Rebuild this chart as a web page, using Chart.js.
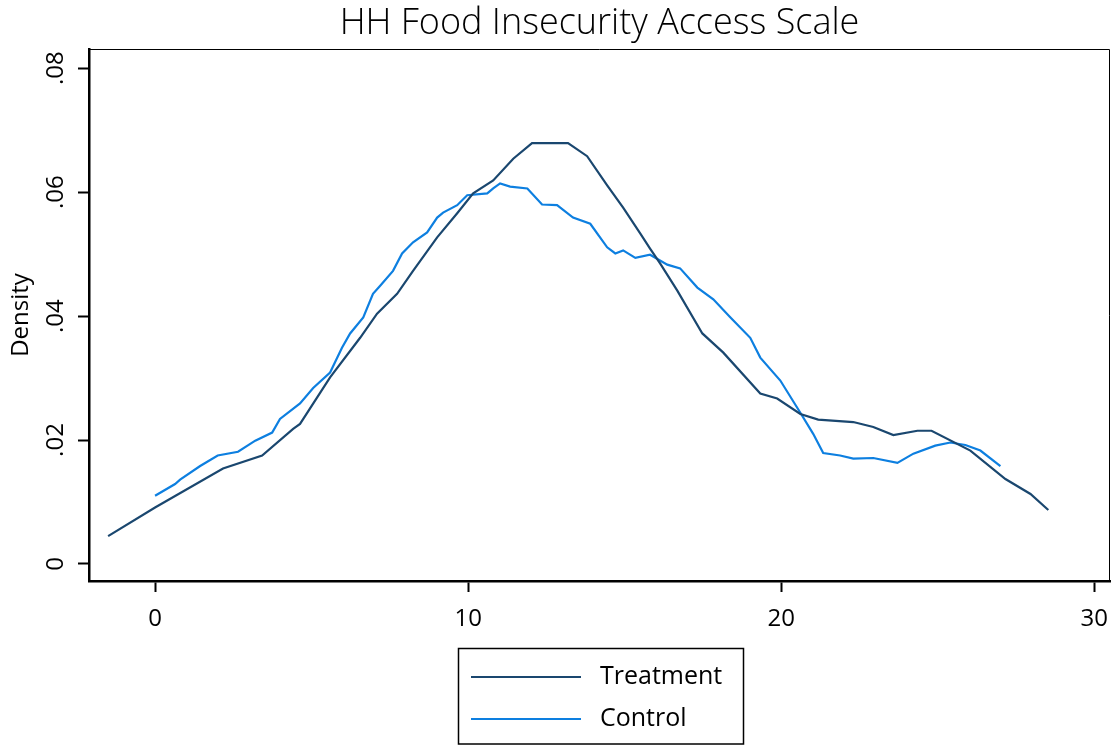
<!DOCTYPE html>
<html>
<head>
<meta charset="utf-8">
<script src="https://cdn.jsdelivr.net/npm/chart.js@4.4.0/dist/chart.umd.min.js"></script>
<style>
  body { margin: 0; background: #fff; }
  #grafica { display: block; }
</style>
</head>
<body>
<canvas id="grafica" width="1112" height="746"></canvas>
<script>
// kernel density
var treatX = [-1.50, 0, 2.17, 3.42, 4.41, 4.63, 5.59, 6.55, 7.09, 7.73,
  8.24, 9.01, 9.65, 10.16, 10.80, 11.44, 12.04, 13.19, 13.80, 14.44,
  14.95, 15.50, 15.81, 16.13, 16.68, 17.48, 18.15, 19.33, 19.87, 20.61,
  21.18, 22.30, 22.94, 23.58, 24.35, 24.80, 26.04, 27.16, 27.96, 28.53];
var treatY = [0.0045, 0.0091, 0.0154, 0.0175, 0.0218, 0.0226, 0.0301, 0.0365, 0.0404, 0.0436,
  0.0473, 0.0527, 0.0566, 0.0598, 0.0619, 0.0654, 0.0679, 0.0679, 0.0658, 0.0611,
  0.0575, 0.0533, 0.0509, 0.0485, 0.0441, 0.0372, 0.0341, 0.0275, 0.0267, 0.0242,
  0.0233, 0.0229, 0.0221, 0.0208, 0.0215, 0.0215, 0.0183, 0.0137, 0.0113, 0.0087];

var ctrlX = [0, 0.64, 0.80, 1.44, 2.00, 2.65, 3.20, 3.74, 3.99, 4.63,
  5.05, 5.59, 5.97, 6.23, 6.65, 6.96, 7.19, 7.60, 7.89, 8.24,
  8.69, 9.01, 9.20, 9.65, 9.97, 10.61, 10.80, 11.02, 11.34, 11.89,
  12.36, 12.84, 13.35, 13.90, 14.44, 14.70, 14.95, 15.34, 15.81, 16.36,
  16.77, 17.32, 17.83, 18.37, 19.01, 19.33, 19.97, 20.61, 21.02, 21.34,
  21.88, 22.30, 22.94, 23.71, 24.22, 24.92, 25.40, 25.88, 26.36, 27.00];
var ctrlY = [0.0110, 0.0129, 0.0136, 0.0158, 0.0175, 0.0181, 0.0199, 0.0212, 0.0234, 0.0259,
  0.0284, 0.0309, 0.0349, 0.0372, 0.0398, 0.0436, 0.0449, 0.0473, 0.0501, 0.0519,
  0.0535, 0.0559, 0.0567, 0.0579, 0.0595, 0.0598, 0.0606, 0.0614, 0.0609, 0.0606,
  0.0580, 0.0579, 0.0559, 0.0549, 0.0511, 0.0501, 0.0506, 0.0494, 0.0499, 0.0483,
  0.0477, 0.0446, 0.0427, 0.0398, 0.0365, 0.0333, 0.0296, 0.0244, 0.0210, 0.0179,
  0.0175, 0.0170, 0.0171, 0.0163, 0.0178, 0.0191, 0.0196, 0.0192, 0.0183, 0.0158];

var seriesNames = ["Treatment", "Control"];
var xTicks = [0, 10, 20, 30];
var xTickLabels = ["0", "10", "20", "30"];
var yTicks = [0, 0.02, 0.04, 0.06, 0.08];
var yTickLabels = ["0", ".02", ".04", ".06", ".08"];

var FONT = '"Open Sans", "DejaVu Sans", sans-serif';

function toPoints(xs, ys){
  return xs.map(function(x, i){ return {x: x, y: ys[i]}; });
}

// stata style extras: thin top/right frame, rotated y labels, boxed legend
var stataBits = {
  id: 'stataBits',
  afterDraw: function(chart){
    var ctx = chart.ctx;
    var a = chart.chartArea;
    ctx.save();
    ctx.strokeStyle = '#000';
    ctx.lineWidth = 1;
    ctx.beginPath();
    ctx.moveTo(a.left, a.top + 0.5);
    ctx.lineTo(a.right - 0.5, a.top + 0.5);
    ctx.lineTo(a.right - 0.5, a.bottom);
    ctx.stroke();

    // y tick labels, reading upward
    var ys = chart.scales.y;
    ctx.fillStyle = '#000';
    ctx.font = '24px ' + FONT;
    ctx.textAlign = 'center';
    ctx.textBaseline = 'middle';
    ys.ticks.forEach(function(t, i){
      var py = ys.getPixelForValue(t.value);
      ctx.save();
      ctx.translate(56, py);
      ctx.rotate(-Math.PI / 2);
      ctx.fillText(yTickLabels[i], 0, 0);
      ctx.restore();
    });

    // legend
    ctx.lineWidth = 1.5;
    ctx.strokeRect(458.5, 648.5, 285, 95.5);
    ctx.font = '25px ' + FONT;
    ctx.textAlign = 'left';
    chart.data.datasets.forEach(function(ds, i){
      var ly = 677 + i * 42;
      ctx.strokeStyle = ds.borderColor;
      ctx.lineWidth = 2;
      ctx.beginPath();
      ctx.moveTo(471, ly);
      ctx.lineTo(581, ly);
      ctx.stroke();
      ctx.fillStyle = '#000';
      ctx.fillText(ds.label, 600, ly);
    });
    ctx.restore();
  }
};

var config = {
  type: 'line',
  data: {
    datasets: [
      {
        label: seriesNames[0],
        data: toPoints(treatX, treatY),
        borderColor: '#1a476f',
        borderWidth: 2.2,
        pointRadius: 0,
        tension: 0
      },
      {
        label: seriesNames[1],
        data: toPoints(ctrlX, ctrlY),
        borderColor: '#0d7fe0',
        borderWidth: 2.2,
        pointRadius: 0,
        tension: 0
      }
    ]
  },
  options: {
    responsive: false,
    animation: false,
    devicePixelRatio: 1,
    layout: { padding: { top: 0, left: 0, right: 2, bottom: 0 } },
    plugins: {
      legend: { display: false },
      tooltip: { enabled: false },
      title: {
        display: true,
        text: 'HH Food Insecurity Access Scale',
        fullSize: false,
        color: '#000',
        font: { family: FONT, size: 36, weight: '300' },
        padding: { top: 2, bottom: 3.8 }
      }
    },
    scales: {
      x: {
        type: 'linear',
        min: -2.11,
        max: 30.5,
        afterBuildTicks: function(scale){
          scale.ticks = xTicks.map(function(v){ return {value: v}; });
        },
        afterFit: function(scale){
          scale.height = 165;
          scale.paddingLeft = 0;
          scale.paddingRight = 0;
        },
        ticks: {
          color: '#000',
          font: { family: FONT, size: 24 },
          padding: 13,
          maxRotation: 0,
          callback: function(v){ return xTickLabels[xTicks.indexOf(v)]; }
        },
        grid: {
          drawOnChartArea: false,
          drawTicks: true,
          tickLength: 11,
          tickWidth: 2,
          tickColor: '#000'
        },
        border: { display: true, color: '#000', width: 2.5 }
      },
      y: {
        type: 'linear',
        min: -0.00275,
        max: 0.0831,
        afterBuildTicks: function(scale){
          scale.ticks = yTicks.map(function(v){ return {value: v}; });
        },
        afterFit: function(scale){
          scale.width = 89;
          scale.paddingTop = 0;
          scale.paddingBottom = 0;
        },
        ticks: { display: false },
        title: {
          display: true,
          text: 'Density',
          color: '#000',
          font: { family: FONT, size: 24 },
          padding: { top: 7, bottom: 0 }
        },
        grid: {
          drawOnChartArea: false,
          drawTicks: true,
          tickLength: 11,
          tickWidth: 2,
          tickColor: '#000'
        },
        border: { display: true, color: '#000', width: 2.5 }
      }
    }
  },
  plugins: [stataBits]
};

var myChart = new Chart(document.getElementById('grafica'), config);
</script>
</body>
</html>
